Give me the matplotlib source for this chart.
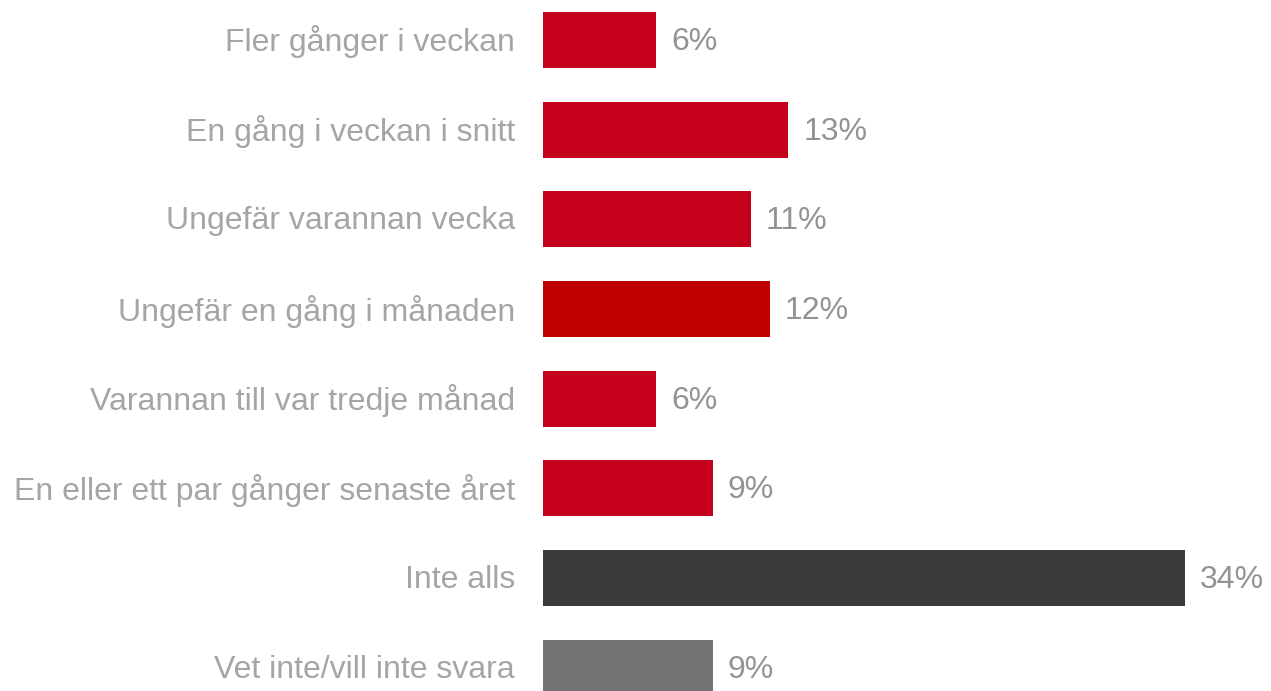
import matplotlib
matplotlib.use("Agg")
import matplotlib.pyplot as plt

categories = [
    "Fler gånger i veckan",
    "En gång i veckan i snitt",
    "Ungefär varannan vecka",
    "Ungefär en gång i månaden",
    "Varannan till var tredje månad",
    "En eller ett par gånger senaste året",
    "Inte alls",
    "Vet inte/vill inte svara",
]
values = [6, 13, 11, 12, 6, 9, 34, 9]
value_labels = ["6%", "13%", "11%", "12%", "6%", "9%", "34%", "9%"]
colors = ["#C5001A", "#C5001A", "#C5001A", "#C00000", "#C5001A", "#C5001A", "#3A3A3A", "#737373"]

plt.rcParams['font.family'] = ['Liberation Sans', 'DejaVu Sans']

W, H = 1271, 691
fig = plt.figure(figsize=(W / 100, H / 100), dpi=100)
ax_left = 543 / W
ax = fig.add_axes([ax_left, 0, 1 - ax_left, 1])

px_per_unit = (1185 - 543) / 34.0
row_px = 89.67
first_center = 40.0

ypos = list(range(len(categories)))
ax.barh(ypos, values, height=56 / row_px, color=colors, linewidth=0)

ax.set_xlim(0, (W - 543) / px_per_unit)
ax.set_ylim((H - first_center) / row_px, -first_center / row_px)

for y, v, lab in zip(ypos, values, value_labels):
    ax.annotate(lab, xy=(v, y), xytext=(15, -2), textcoords="offset pixels",
                ha="left", va="center", fontsize=23, color="#939393",
                annotation_clip=False)

for y, cat in zip(ypos, categories):
    ax.annotate(cat, xy=(0, y), xytext=(-28, -2), textcoords="offset pixels",
                ha="right", va="center", fontsize=23, color="#A5A5A5",
                annotation_clip=False)

ax.set_xticks([])
ax.set_yticks([])
for s in ax.spines.values():
    s.set_visible(False)
ax.patch.set_alpha(0)

fig.savefig("out.png", dpi=100)
